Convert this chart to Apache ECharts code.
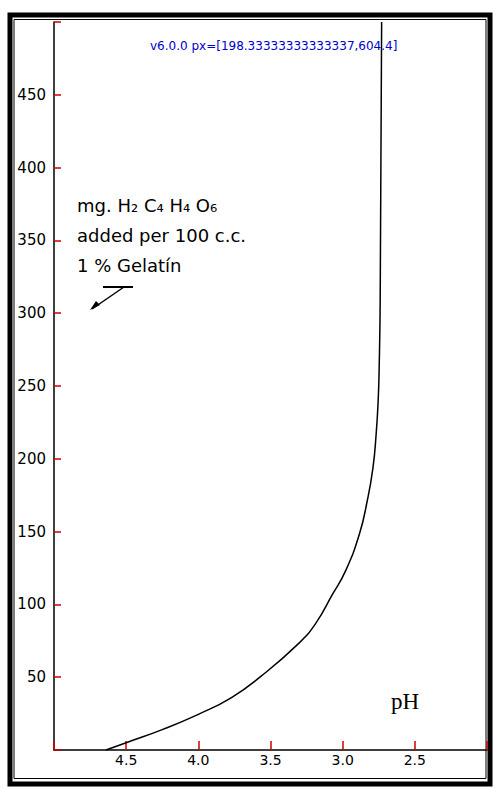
<!DOCTYPE html>
<html>
<head>
<meta charset="utf-8">
<script src="https://cdn.jsdelivr.net/npm/echarts@6/dist/echarts.min.js"></script>
<style>
  html, body { margin: 0; padding: 0; background: #fff; }
  #chart { width: 496px; height: 788px; }
</style>
</head>
<body>
<div id="chart"></div>
<script>
const phValues = [4.64, 4.5, 4.25, 4.0, 3.77, 3.565, 3.31, 3.19, 3.07, 2.98, 2.885, 2.83, 2.79, 2.768, 2.754, 2.747, 2.74, 2.73]
const mgValues = [0, 5, 14, 24.5, 36, 50.7, 72.7, 86.5, 107, 123, 148, 171, 194, 217, 240, 263, 309, 500]
const xTicks = [4.5, 4.0, 3.5, 3.0, 2.5]
const yTicks = [50, 100, 150, 200, 250, 300, 350, 400, 450]
const noteLines = ["mg. H₂ C₄ H₄ O₆", "added per 100 c.c.", "1 % Gelatín"]

const font = "'DejaVu Sans', sans-serif"
const chart = echarts.init(document.getElementById("chart"), null, { renderer: "svg" })

const frame = [
  { type: "rect", shape: { x: 10, y: 15, width: 480, height: 769 }, style: { fill: "none", stroke: "#000", lineWidth: 5 } },
  { type: "rect", shape: { x: 14, y: 19.5, width: 472, height: 759 }, style: { fill: "none", stroke: "#000", lineWidth: 1 } },
  {
    type: "text", left: 77, top: 190,
    style: { text: noteLines.join("\n"), font: "18px " + font, lineHeight: 30, fill: "#000" }
  },
  { type: "polyline", shape: { points: [[103, 287], [133, 287]] }, style: { stroke: "#000", lineWidth: 2 } },
  { type: "polyline", shape: { points: [[124, 287], [92, 309]] }, style: { stroke: "#000", lineWidth: 1.5 } },
  { type: "polygon", shape: { points: [[90, 310], [96, 301], [100, 305]] }, style: { fill: "#000" } },
  { type: "text", left: 391, top: 690, style: { text: "pH", font: "23px 'Liberation Serif', serif", fill: "#000" } }
]

const hidden = { show: false }
chart.setOption({
  backgroundColor: "#fff",
  animation: false,
  grid: { left: 54, right: 9, top: 22, bottom: 38 },
  xAxis: [
    {
      type: "value", inverse: true, min: 2, max: 5, interval: 0.5,
      splitLine: hidden,
      axisLine: { show: true, lineStyle: { color: "#000", width: 1.5 } },
      axisTick: hidden,
      axisLabel: {
        showMinLabel: false, showMaxLabel: false,
        formatter: v => v.toFixed(1),
        color: "#000", fontFamily: font, fontSize: 14, margin: 3
      }
    },
    {
      // mirror axis sitting on the bottom line, its outward ticks point up into the plot
      type: "value", inverse: true, min: 2, max: 5, interval: 0.5,
      position: "top", offset: -728,
      splitLine: hidden, axisLabel: hidden,
      axisLine: hidden,
      axisTick: { show: true, length: 9, lineStyle: { color: "#c00", width: 1.5 } }
    }
  ],
  yAxis: [
    {
      type: "value", min: 0, max: 500, interval: 50,
      splitLine: hidden,
      axisLine: { show: true, lineStyle: { color: "#000", width: 1.5 } },
      axisTick: hidden,
      axisLabel: {
        showMinLabel: false, showMaxLabel: false,
        color: "#000", fontFamily: font, fontSize: 15, margin: 8
      }
    },
    {
      type: "value", min: 0, max: 500, interval: 50,
      position: "right", offset: -433,
      splitLine: hidden, axisLabel: hidden,
      axisLine: hidden,
      axisTick: { show: true, length: 7, lineStyle: { color: "#c00", width: 1.5 } }
    }
  ],
  series: [
    {
      type: "line",
      data: phValues.map((p, i) => [p, mgValues[i]]),
      smooth: true,
      symbol: "none",
      lineStyle: { color: "#000", width: 1.5 }
    }
  ],
  graphic: frame
})

let info = "v" + echarts.version
try {
  const p = chart.convertToPixel({ xAxisIndex: 0, yAxisIndex: 0 }, [4.0, 100])
  info += " px=" + JSON.stringify(p)
} catch (e) {
  info += " err=" + e.message
}
chart.setOption({ graphic: frame.concat([{ type: "text", left: 150, top: 40, style: { text: info, font: "12px " + font, fill: "#00c" } }]) })
</script>
</body>
</html>
